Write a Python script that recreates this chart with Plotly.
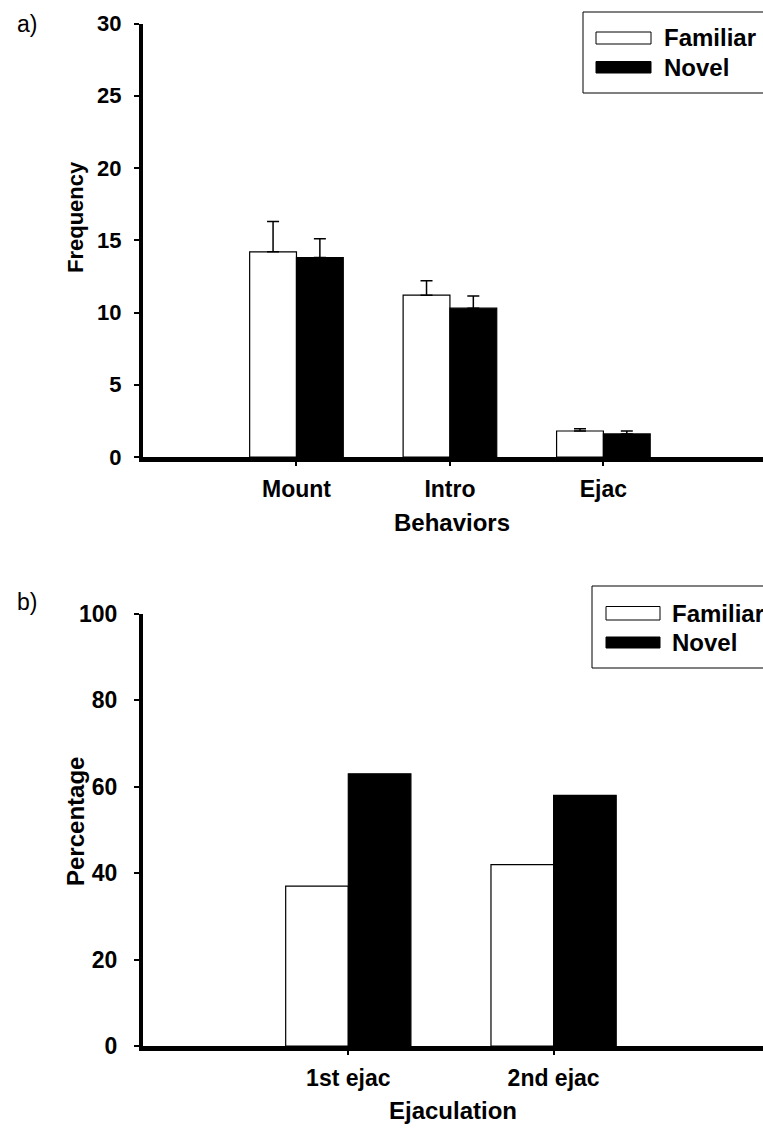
import plotly.graph_objects as go

# ---- data -------------------------------------------------------------
behaviors = ["Mount", "Intro", "Ejac"]
familiar_freq = [14.2, 11.2, 1.8]
familiar_freq_sem = [2.1, 1.0, 0.15]
novel_freq = [13.8, 10.3, 1.6]
novel_freq_sem = [1.3, 0.85, 0.2]

ejaculations = ["1st ejac", "2nd ejac"]
familiar_pct = [37, 42]
novel_pct = [63, 58]

series_names = ["Familiar", "Novel"]

# ---- geometry helpers (pixel -> paper) --------------------------------
W, H = 763, 1130
FONT = "Liberation Sans, Arial, sans-serif"


def xp(px):
    return px / W


def yp(py):
    return 1 - py / H


fig = go.Figure()

# panel a: frequency of behaviors
fig.add_trace(go.Bar(
    x=behaviors, y=familiar_freq, name=series_names[0],
    marker=dict(color="white", line=dict(color="black", width=1.2)),
    error_y=dict(type="data", symmetric=False, array=familiar_freq_sem,
                 arrayminus=[0] * len(familiar_freq), color="black",
                 thickness=1.5, width=6),
    xaxis="x", yaxis="y", showlegend=False,
))
fig.add_trace(go.Bar(
    x=behaviors, y=novel_freq, name=series_names[1],
    marker=dict(color="black", line=dict(color="black", width=1.2)),
    error_y=dict(type="data", symmetric=False, array=novel_freq_sem,
                 arrayminus=[0] * len(novel_freq), color="black",
                 thickness=1.5, width=6),
    xaxis="x", yaxis="y", showlegend=False,
))

# panel b: percentage per ejaculation
fig.add_trace(go.Bar(
    x=ejaculations, y=familiar_pct, name=series_names[0],
    marker=dict(color="white", line=dict(color="black", width=1.2)),
    xaxis="x2", yaxis="y2", showlegend=False,
))
fig.add_trace(go.Bar(
    x=ejaculations, y=novel_pct, name=series_names[1],
    marker=dict(color="black", line=dict(color="black", width=1.2)),
    xaxis="x2", yaxis="y2", showlegend=False,
))

tick_font = dict(family=FONT, size=23, color="black", weight="bold")

common_x = dict(
    type="category", showline=True, linecolor="black", linewidth=5,
    ticks="outside", ticklen=4, tickwidth=1.5, tickcolor="black",
    tickfont=tick_font, showgrid=False, zeroline=False, automargin=False,
    fixedrange=True,
)
common_y = dict(
    showline=True, linecolor="black", linewidth=4,
    ticks="outside", ticklen=5, tickwidth=1.5, tickcolor="black",
    tickfont=dict(family=FONT, size=22, color="black", weight="bold"),
    showgrid=False, zeroline=False, automargin=False, fixedrange=True,
)

fig.update_layout(
    width=W, height=H,
    margin=dict(l=0, r=0, t=0, b=0),
    paper_bgcolor="white", plot_bgcolor="white",
    barmode="group", bargap=0.39, bargroupgap=0,
    font=dict(family=FONT, color="black"),
    xaxis=dict(common_x, domain=[xp(143), 1], range=[-1, 3.04], anchor="y",
               ticklabelstandoff=3),
    yaxis=dict(common_y, domain=[yp(457), yp(23.5)], range=[0, 30], dtick=5,
               anchor="x", ticklabelstandoff=8),
    xaxis2=dict(common_x, domain=[xp(143), 1], range=[-1, 2.02], anchor="y2",
                ticklabelstandoff=3),
    yaxis2=dict(common_y, domain=[yp(1046), yp(614)], range=[0, 100], dtick=20,
                anchor="x2", ticklabelstandoff=12,
                tickfont=dict(family=FONT, size=23, color="black", weight="bold")),
)

annotations = []
shapes = []


def label(text, x, y, size=22, bold=True, angle=0, xanchor="center"):
    annotations.append(dict(
        text=text, x=xp(x), y=yp(y), xref="paper", yref="paper",
        showarrow=False, textangle=angle, xanchor=xanchor, yanchor="middle",
        font=dict(family=FONT, size=size, color="black",
                  weight="bold" if bold else "normal"),
    ))


# panel letters
label("a)", 27, 24, size=23, bold=False)
label("b)", 27, 602, size=23, bold=False)

# axis titles
label("Frequency", 75, 217, size=22, angle=-90)
label("Behaviors", 452, 522, size=24)
label("Percentage", 75, 822, size=24, angle=-90)
label("Ejaculation", 453, 1110, size=24)


def legend_box(left, top, bottom, sym_x0, sym_x1, rows, text_x):
    # open-ended frame running off the right edge
    line = dict(color="black", width=1)
    shapes.append(dict(type="line", xref="paper", yref="paper",
                       x0=xp(left), x1=1.0, y0=yp(top), y1=yp(top), line=line))
    shapes.append(dict(type="line", xref="paper", yref="paper",
                       x0=xp(left), x1=1.0, y0=yp(bottom), y1=yp(bottom), line=line))
    shapes.append(dict(type="line", xref="paper", yref="paper",
                       x0=xp(left), x1=xp(left), y0=yp(top), y1=yp(bottom), line=line))
    for name, fill, (y0, y1) in rows:
        shapes.append(dict(type="rect", xref="paper", yref="paper",
                           x0=xp(sym_x0), x1=xp(sym_x1), y0=yp(y1), y1=yp(y0),
                           fillcolor=fill, line=dict(color="black", width=1)))
        label(name, text_x, (y0 + y1) / 2, size=24, xanchor="left")


legend_box(583, 12, 93, 596, 651,
           [(series_names[0], "white", (32, 44)),
            (series_names[1], "black", (61.5, 73))], 662)
legend_box(592, 586, 668, 606, 660,
           [(series_names[0], "white", (606.5, 620)),
            (series_names[1], "black", (637, 648))], 670)

fig.update_layout(annotations=annotations, shapes=shapes)

fig.write_html("out.html", config=dict(displayModeBar=False))
